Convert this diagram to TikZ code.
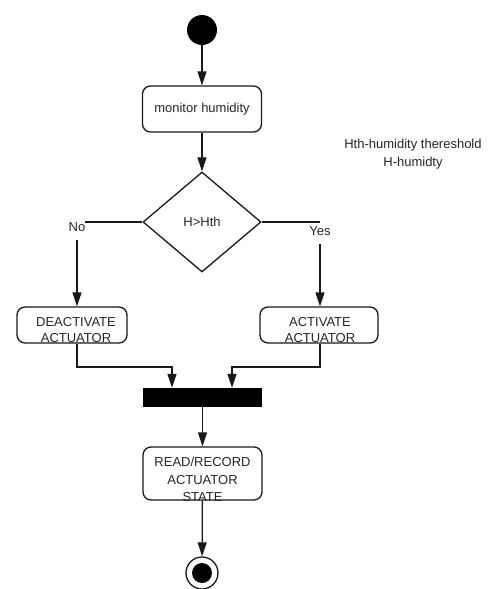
\documentclass[tikz,border=0pt]{standalone}
\usepackage{fontspec}
\setmainfont{Liberation Sans}
\usetikzlibrary{arrows.meta,shapes.geometric}
\begin{document}
\begin{tikzpicture}[x=1pt,y=-1pt,
  conn/.style={line width=1.3pt, draw=black!90},
  flow/.style={conn, -{Triangle[length=14pt,width=9pt]}},
  activity/.style={draw=black!90, line width=1.3pt, rounded corners=8pt, inner sep=0pt},
  txt/.style={font=\fontsize{13}{16}\selectfont, text=black!85, align=center, inner sep=0pt},
]
\useasboundingbox (0,0) rectangle (488,589);

% initial and final states
\node[circle, fill=black, minimum size=30pt, inner sep=0pt] (start) at (202,30) {};
\node[circle, draw=black!90, line width=1.3pt, minimum size=32pt, inner sep=0pt] (end) at (202,573) {};
\node[circle, fill=black, minimum size=20pt, inner sep=0pt] (endcore) at (202,573) {};

% activities
\node[activity, txt, minimum width=119pt, minimum height=46pt] (monitor) at (202,109) {monitor humidity};
\node[diamond, draw=black!90, line width=1.3pt, minimum width=118pt, minimum height=100pt, inner sep=0pt, txt] (decide) at (202,222) {H>Hth};

\node[activity, minimum width=110pt, minimum height=36pt] (deact) at (72,325) {};
\node[txt] (deacttext) at (76,330) {DEACTIVATE\\ACTUATOR};
\node[activity, minimum width=118pt, minimum height=36pt] (act) at (319,325) {};
\node[txt] (acttext) at (320,330) {ACTIVATE\\ACTUATOR};

% synchronisation bar
\node[fill=black, minimum width=119pt, minimum height=19pt, inner sep=0pt] (bar) at (202.5,397.5) {};

\node[activity, minimum width=119pt, minimum height=53pt] (read) at (202.5,473.5) {};
\node[txt, font=\fontsize{13}{17.5}\selectfont] (readtext) at (202.5,479.5) {READ/RECORD\\ACTUATOR\\STATE};

% legend
\node[txt, font=\fontsize{13}{18}\selectfont] (legend) at (413,154) {Hth-humidity thereshold\\H-humidty};

% guard labels
\node[txt] (no) at (77,227) {No};
\node[txt] (yes) at (320,231) {Yes};
\coordinate (noend) at (85,222);
\coordinate (yesend) at (320,222);
\coordinate (nodrop) at (77,240);
\coordinate (yesdrop) at (320,244);
\coordinate (joinL) at (172,367);
\coordinate (joinR) at (232,367);

% flows
\draw[flow] (start) -- (monitor);
\draw[flow] (monitor) -- (decide);
\draw[conn] (decide.west) -- (noend);
\draw[conn] (decide.east) -- (yesend);
\draw[flow] (nodrop) -- (nodrop |- deact.north);
\draw[flow] (yesdrop) -- (yesdrop |- act.north);
\draw[flow] (nodrop |- deact.south) |- (joinL) -- (joinL |- bar.north);
\draw[flow] (yesdrop |- act.south) |- (joinR) -- (joinR |- bar.north);
\draw[flow] (bar) -- (read);
\draw[flow] (read) -- (end);
\end{tikzpicture}
\end{document}
